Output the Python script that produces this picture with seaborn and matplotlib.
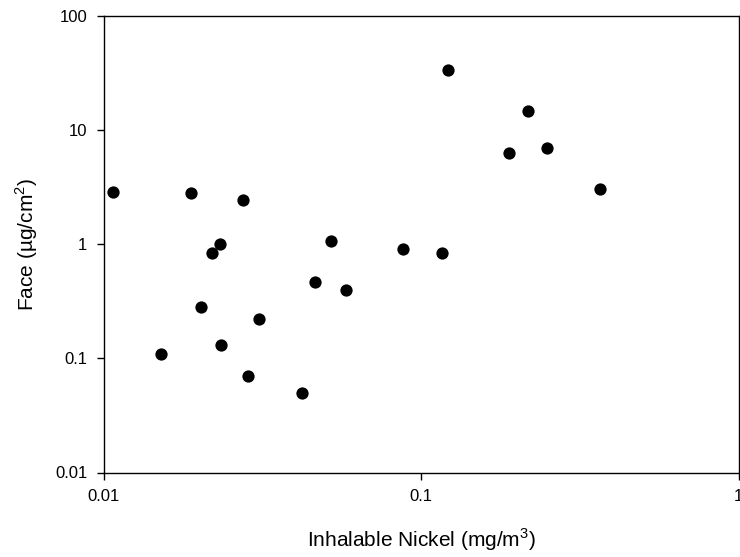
import numpy as np
import pandas as pd
import matplotlib
matplotlib.use("Agg")
import matplotlib.pyplot as plt
from matplotlib.ticker import FixedLocator, FixedFormatter, NullLocator
import seaborn as sns

# Inhalable nickel exposure (mg/m3) vs. nickel on face skin (ug/cm2)
inhalable_nickel = [0.0107, 0.0189, 0.0275, 0.0232, 0.0219, 0.0520, 0.0876, 0.1164,
                    0.0462, 0.0578, 0.0203, 0.0309, 0.0235, 0.0152, 0.0285, 0.0421,
                    0.1216, 0.2173, 0.1889, 0.2500, 0.3653]
face_loading = [2.87, 2.79, 2.43, 1.00, 0.83, 1.06, 0.90, 0.84,
                0.47, 0.40, 0.28, 0.22, 0.13, 0.11, 0.07, 0.05,
                33.4, 14.7, 6.26, 6.92, 3.05]

x_ticks = [0.01, 0.1, 1]
x_tick_labels = ["0.01", "0.1", "1"]
y_ticks = [0.01, 0.1, 1, 10, 100]
y_tick_labels = ["0.01", "0.1", "1", "10", "100"]

df = pd.DataFrame({"nickel": inhalable_nickel, "face": face_loading})

sns.set_style("ticks")
plt.rcParams["font.family"] = ["Liberation Sans", "DejaVu Sans"]
plt.rcParams["mathtext.fontset"] = "custom"
plt.rcParams["mathtext.rm"] = "Liberation Sans"

fig = plt.figure(figsize=(7.40, 5.57), dpi=100)
ax = fig.add_axes([103.7 / 740, 1 - 472.5 / 557, (738.6 - 103.7) / 740, (472.5 - 15.7) / 557])

sns.scatterplot(data=df, x="nickel", y="face", ax=ax, color="black",
                s=78, edgecolor="black", linewidth=0, legend=False)

ax.set_xscale("log")
ax.set_yscale("log")
ax.set_xlim(0.01, 1)
ax.set_ylim(0.01, 100)

ax.xaxis.set_major_locator(FixedLocator(x_ticks))
ax.xaxis.set_major_formatter(FixedFormatter(x_tick_labels))
ax.yaxis.set_major_locator(FixedLocator(y_ticks))
ax.yaxis.set_major_formatter(FixedFormatter(y_tick_labels))
ax.xaxis.set_minor_locator(NullLocator())
ax.yaxis.set_minor_locator(NullLocator())

ax.tick_params(axis="both", which="major", direction="out", length=4.7, width=1.0,
               color="black", labelsize=12, labelcolor="black")
ax.tick_params(axis="x", pad=7.5)
ax.tick_params(axis="y", pad=7)

for side in ["top", "right", "bottom", "left"]:
    ax.spines[side].set_visible(True)
    ax.spines[side].set_color("black")
    ax.spines[side].set_linewidth(1.0)

ax.set_xlabel("Inhalable Nickel (mg/m$^3$)", fontsize=15, color="black")
ax.set_ylabel("Face (\u00b5g/cm$^2$)", fontsize=15, color="black")
ax.xaxis.set_label_coords(0.5, -0.118)
ax.yaxis.set_label_coords(-0.100, 0.5)

fig.savefig("out.png", dpi=100, facecolor="white")
